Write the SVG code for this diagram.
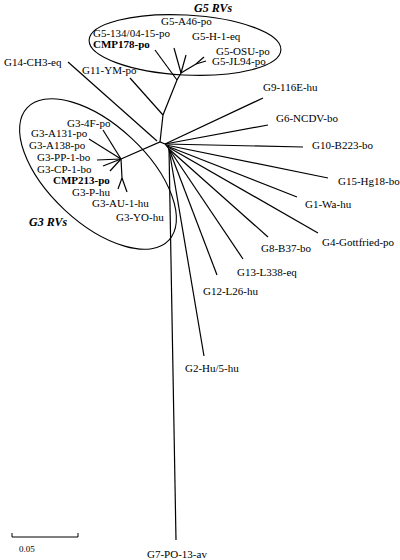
<svg xmlns="http://www.w3.org/2000/svg" width="400" height="560" viewBox="0 0 400 560">
<style>
.t{font-family:"Liberation Serif","Times New Roman",serif;font-size:11px;fill:#000}
.b{font-weight:bold}
.h{font-weight:bold;font-style:italic;font-size:12px}
.s{font-size:9px}
.e{fill:none;stroke:#000;stroke-width:1.1}
#edges line,#edges polyline{stroke:#000;stroke-width:1.2;fill:none}
</style>
<rect width="400" height="560" fill="#fff"/>
<g id="clusters">
<ellipse class="e" cx="185" cy="45" rx="96" ry="30" transform="rotate(3 185 45)"/>
<ellipse class="e" cx="98" cy="174" rx="97" ry="49" transform="rotate(43 98 174)"/>
<text class="t h" x="194" y="12">G5 RVs</text>
<text class="t h" x="29" y="226">G3 RVs</text>
</g>
<g id="edges">
<polyline points="121,159 160,142 165,144 169,149"/>
<polyline points="160,142 163,115 177,80 181,73"/>
<line x1="163" y1="115" x2="130" y2="78"/>
<line x1="157" y1="141" x2="68" y2="62"/>
<line x1="177" y1="80" x2="155" y2="50"/>
<line x1="181" y1="73" x2="174" y2="48"/>
<line x1="181" y1="73" x2="186" y2="55"/>
<polyline points="181,73 196,64 204,57"/>
<line x1="196" y1="64" x2="206" y2="61"/>
<line x1="121" y1="159" x2="103" y2="130"/>
<line x1="121" y1="159" x2="89" y2="139"/>
<line x1="121" y1="159" x2="97" y2="160"/>
<line x1="121" y1="159" x2="103" y2="166"/>
<line x1="121" y1="159" x2="110" y2="171"/>
<polyline points="121,159 122,178 118,189"/>
<line x1="122" y1="178" x2="127" y2="192"/>
<line x1="165" y1="144" x2="263" y2="98"/>
<line x1="165" y1="144" x2="268" y2="125"/>
<line x1="165" y1="144" x2="303" y2="147"/>
<line x1="166" y1="145" x2="328" y2="178"/>
<line x1="167" y1="146" x2="297" y2="197"/>
<line x1="168" y1="147" x2="318" y2="233"/>
<line x1="169" y1="149" x2="268" y2="237"/>
<line x1="169" y1="149" x2="243" y2="259"/>
<line x1="169" y1="149" x2="217" y2="275"/>
<line x1="169" y1="149" x2="204" y2="356"/>
<line x1="169" y1="149" x2="176" y2="540"/>
</g>
<g id="labels-g5">
<text class="t" x="161" y="24.5">G5-A46-po</text>
<text class="t" x="93" y="37">G5-134/04-15-po</text>
<text class="t b" x="93" y="48">CMP178-po</text>
<text class="t" x="192" y="40">G5-H-1-eq</text>
<text class="t" x="216" y="54.5">G5-OSU-po</text>
<text class="t" x="212" y="65">G5-JL94-po</text>
</g>
<g id="labels-g3">
<text class="t" x="67" y="127">G3-4F-po</text>
<text class="t" x="31" y="137">G3-A131-po</text>
<text class="t" x="29" y="149">G3-A138-po</text>
<text class="t" x="37" y="161">G3-PP-1-bo</text>
<text class="t" x="37" y="173">G3-CP-1-bo</text>
<text class="t b" x="53" y="184">CMP213-po</text>
<text class="t" x="72" y="195.5">G3-P-hu</text>
<text class="t" x="92" y="207">G3-AU-1-hu</text>
<text class="t" x="116" y="220.5">G3-YO-hu</text>
</g>
<g id="labels-other">
<text class="t" x="4" y="66">G14-CH3-eq</text>
<text class="t" x="82" y="74">G11-YM-po</text>
<text class="t" x="263" y="91">G9-116E-hu</text>
<text class="t" x="276" y="121.5">G6-NCDV-bo</text>
<text class="t" x="312" y="149">G10-B223-bo</text>
<text class="t" x="338" y="185">G15-Hg18-bo</text>
<text class="t" x="305" y="208">G1-Wa-hu</text>
<text class="t" x="322" y="246">G4-Gottfried-po</text>
<text class="t" x="261" y="252">G8-B37-bo</text>
<text class="t" x="237" y="276">G13-L338-eq</text>
<text class="t" x="203" y="295">G12-L26-hu</text>
<text class="t" x="185" y="372">G2-Hu/5-hu</text>
<text class="t" x="147" y="558">G7-PO-13-av</text>
</g>
<g id="scale">
<polyline points="12,533 12,537 78,537 78,533" fill="none" stroke="#000" stroke-width="1"/>
<text class="t s" x="19" y="552">0.05</text>
</g>
</svg>
